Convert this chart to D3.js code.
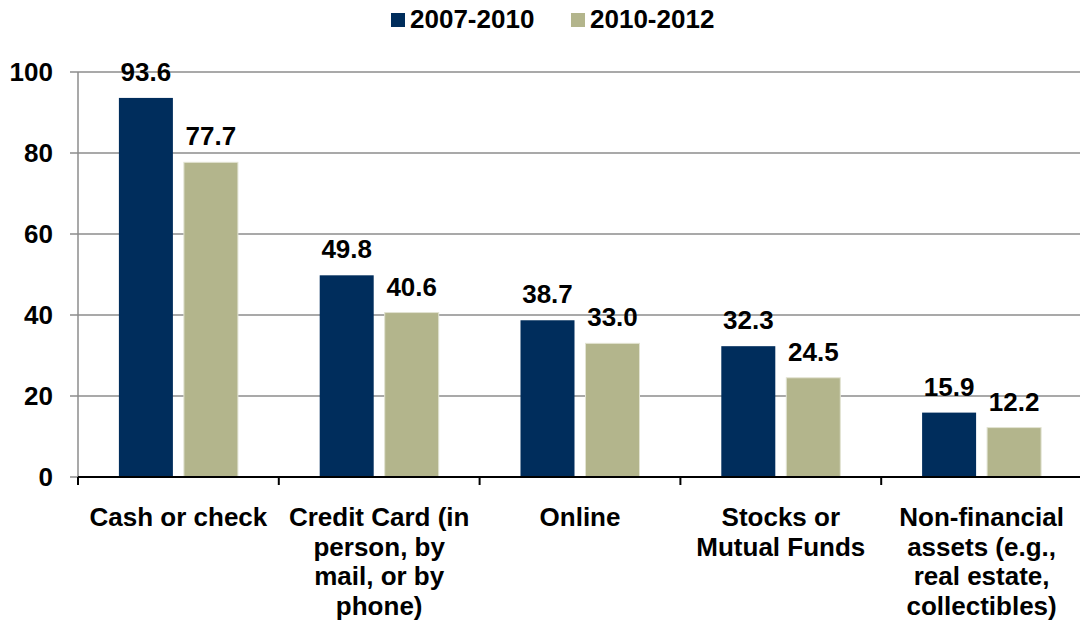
<!DOCTYPE html>
<html>
<head>
<meta charset="utf-8">
<script src="https://cdn.jsdelivr.net/npm/d3@7"></script>
<style>
  body { margin: 0; background: #fff; }
  text { font-family: "Liberation Sans", Arial, sans-serif; font-weight: bold; fill: #000; }
</style>
</head>
<body>
<svg id="chart" width="1080" height="624"></svg>
<script>
var categories = [
    ["Cash or check"],
    ["Credit Card (in", "person, by", "mail, or by", "phone)"],
    ["Online"],
    ["Stocks or", "Mutual Funds"],
    ["Non-financial", "assets (e.g.,", "real estate,", "collectibles)"]
];
var seriesNames = ["2007-2010", "2010-2012"];
var values2007 = [93.6, 49.8, 38.7, 32.3, 15.9];
var values2010 = [77.7, 40.6, 33.0, 24.5, 12.2];
var yTicks = [0, 20, 40, 60, 80, 100];
var colors = ["#002d5c", "#b3b58c"];

var svg = d3.select("#chart");
var plotLeft = 78, plotRight = 1082, plotTop = 72, plotBottom = 477;

var x = d3.scaleBand()
    .domain(d3.range(categories.length))
    .range([plotLeft, plotRight]);

var y = d3.scaleLinear()
    .domain([0, 100])
    .range([plotBottom, plotTop]);

var barW = 54, gap = 11;
function barX(i, s) {
    return x(i) + (x.bandwidth() - 2 * barW - gap) / 2 + s * (barW + gap);
}

// gridlines + y ticks
svg.selectAll("line.grid")
    .data(yTicks.filter(d => d > 0))
    .enter().append("line")
    .attr("x1", plotLeft - 8).attr("x2", 1080)
    .attr("y1", d => y(d)).attr("y2", d => y(d))
    .attr("stroke", "#8c8c8c").attr("stroke-width", 1.5);

svg.append("line")
    .attr("x1", plotLeft).attr("x2", plotLeft)
    .attr("y1", plotTop).attr("y2", plotBottom)
    .attr("stroke", "#8c8c8c").attr("stroke-width", 1.5);

svg.append("line")
    .attr("x1", plotLeft - 8).attr("x2", plotLeft)
    .attr("y1", plotBottom).attr("y2", plotBottom)
    .attr("stroke", "#8c8c8c").attr("stroke-width", 1.5);

svg.selectAll("text.ytick")
    .data(yTicks)
    .enter().append("text")
    .attr("x", 53)
    .attr("y", d => y(d) + 9)
    .attr("text-anchor", "end")
    .style("font-size", "26px")
    .text(d => d);

// bars
var series = [values2007, values2010];
series.forEach(function(vals, s) {
    var g = svg.append("g");
    g.selectAll("rect")
        .data(vals)
        .enter().append("rect")
        .attr("x", (d, i) => barX(i, s))
        .attr("y", d => y(d))
        .attr("width", barW)
        .attr("height", d => plotBottom - y(d))
        .attr("fill", colors[s])
        .attr("stroke", s == 1 ? "#e2e3d2" : "none")
        .attr("stroke-width", 1);
    g.selectAll("text")
        .data(vals)
        .enter().append("text")
        .attr("x", (d, i) => barX(i, s) + barW / 2)
        .attr("y", d => y(d) - 17)
        .attr("text-anchor", "middle")
        .style("font-size", "26px")
        .text(d => d.toFixed(1));
});

// x baseline and category ticks
svg.append("line")
    .attr("x1", plotLeft).attr("x2", 1080)
    .attr("y1", plotBottom).attr("y2", plotBottom)
    .attr("stroke", "#000").attr("stroke-width", 2);

svg.selectAll("line.xtick")
    .data(d3.range(categories.length))
    .enter().append("line")
    .attr("x1", d => x(d)).attr("x2", d => x(d))
    .attr("y1", plotBottom).attr("y2", plotBottom + 8)
    .attr("stroke", "#000").attr("stroke-width", 2);

// category labels
svg.selectAll("text.cat")
    .data(categories)
    .enter().append("text")
    .attr("text-anchor", "middle")
    .style("font-size", "26px")
    .each(function(lines, i) {
        d3.select(this).selectAll("tspan")
            .data(lines)
            .enter().append("tspan")
            .attr("x", x(i) + x.bandwidth() / 2)
            .attr("y", (d, k) => 526 + k * 29.5)
            .text(d => d);
    });

// legend
var legend = svg.append("g");
var legendX = [391, 571];
seriesNames.forEach(function(name, s) {
    legend.append("rect")
        .attr("x", legendX[s]).attr("y", 13)
        .attr("width", 14).attr("height", 14)
        .attr("fill", colors[s]);
    legend.append("text")
        .attr("x", legendX[s] + 19).attr("y", 28)
        .style("font-size", "26px")
        .text(name);
});
</script>
</body>
</html>
